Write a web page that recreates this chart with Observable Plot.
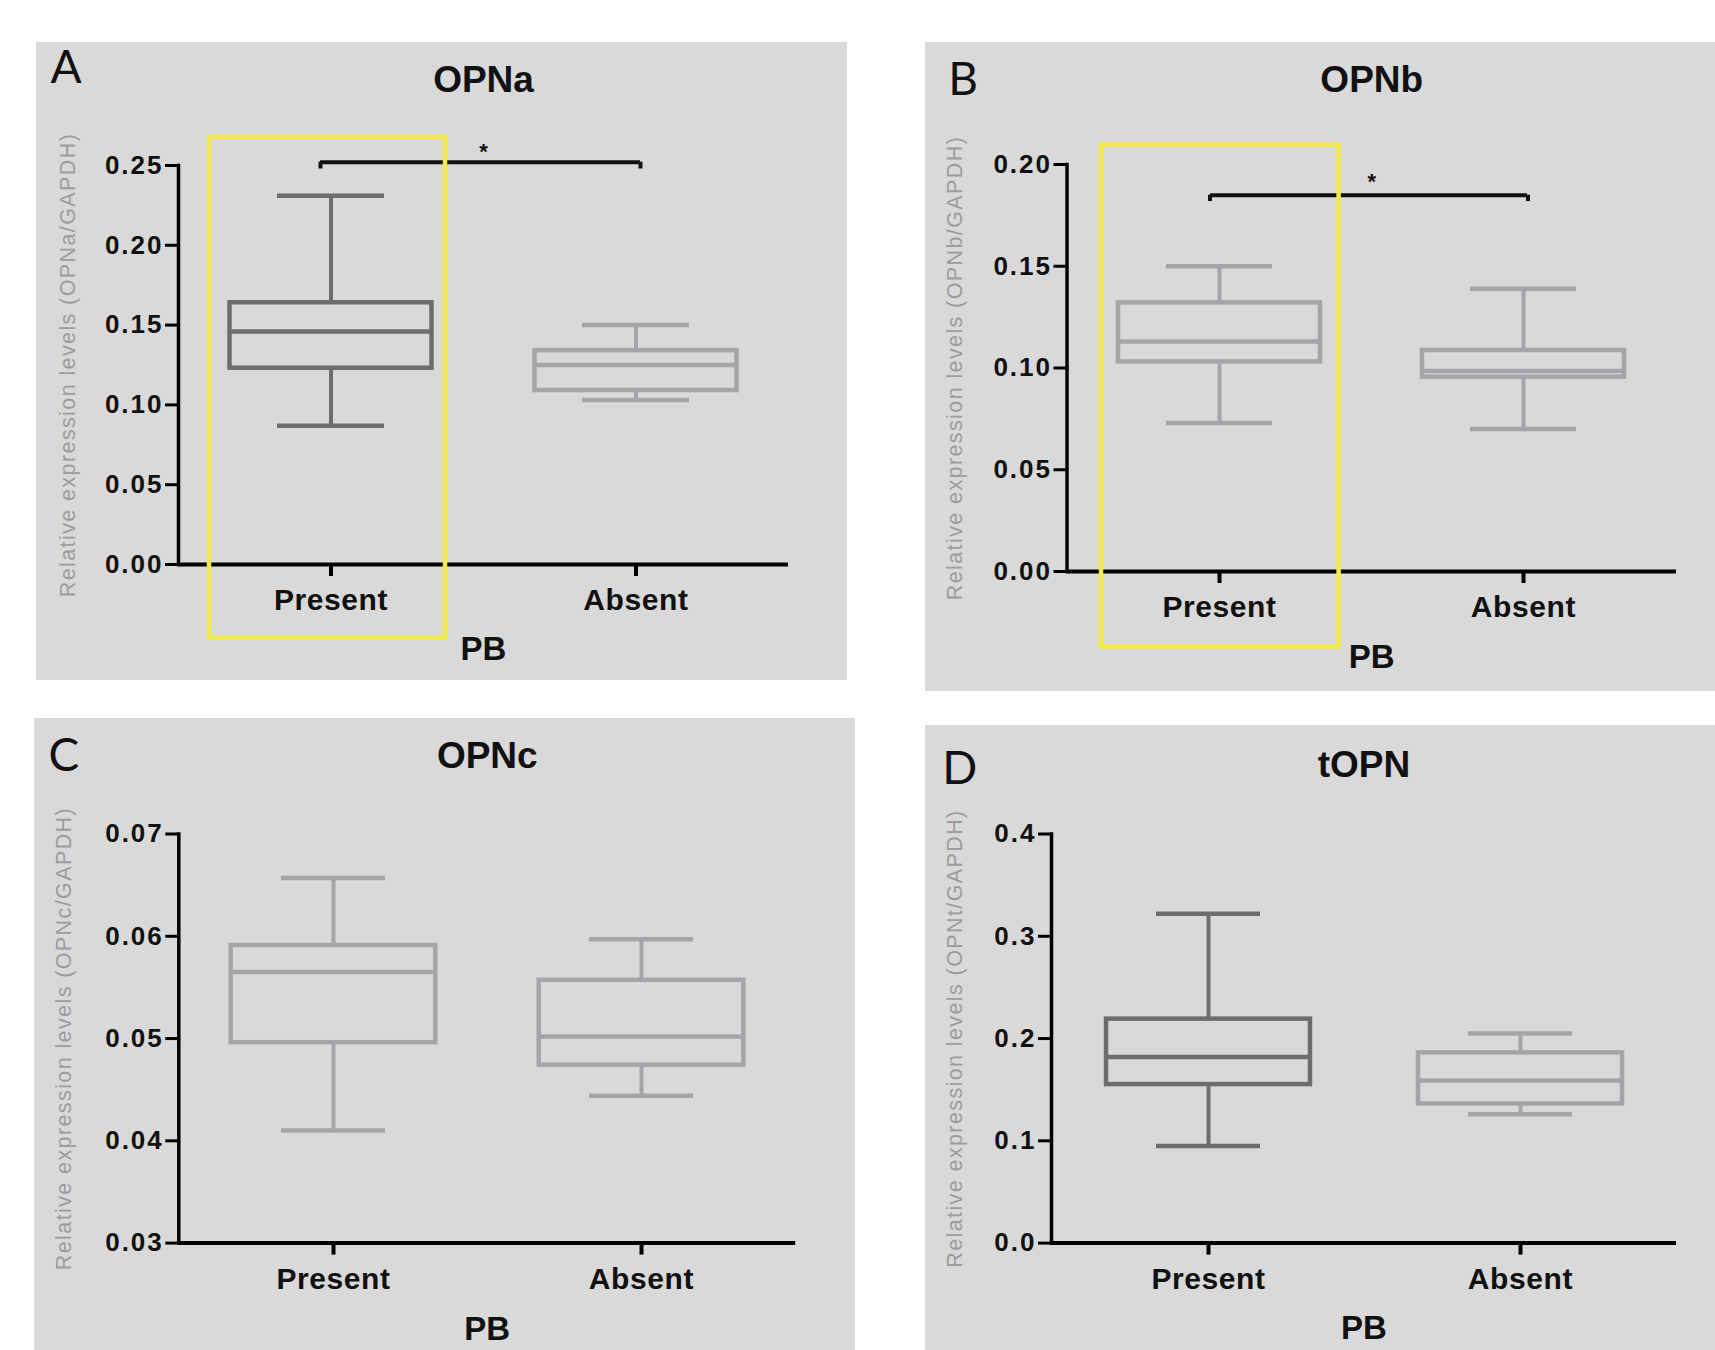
<!DOCTYPE html>
<html><head><meta charset="utf-8">
<script src="https://cdn.jsdelivr.net/npm/d3@7"></script>
<script src="https://cdn.jsdelivr.net/npm/@observablehq/plot@0.6"></script>
<style>
html,body{margin:0;padding:0;background:#fff;}
#page{position:relative;width:1715px;height:1350px;overflow:hidden;background:#fff;}
.panel{position:absolute;}
</style></head><body><div id="page"></div>
<script>
// ---------- data ----------
const groups = ["Present", "Absent"];
const panelLetters = ["A", "B", "C", "D"];
const panelTitles = ["OPNa", "OPNb", "OPNc", "tOPN"];
const xAxisTitle = "PB";
const yAxisTitles = [
  "Relative expression levels (OPNa/GAPDH)",
  "Relative expression levels (OPNb/GAPDH)",
  "Relative expression levels (OPNc/GAPDH)",
  "Relative expression levels (OPNt/GAPDH)"
];
// five-number summaries: [min, q1, median, q3, max]
const opnaPresent = [0.087, 0.123, 0.146, 0.164, 0.231];
const opnaAbsent  = [0.103, 0.109, 0.125, 0.134, 0.150];
const opnbPresent = [0.073, 0.103, 0.113, 0.132, 0.150];
const opnbAbsent  = [0.070, 0.0955, 0.0985, 0.1086, 0.139];
const opncPresent = [0.0410, 0.0496, 0.0565, 0.0591, 0.0657];
const opncAbsent  = [0.0444, 0.0474, 0.0502, 0.0557, 0.0597];
const topnPresent = [0.095, 0.155, 0.182, 0.219, 0.322];
const topnAbsent  = [0.126, 0.136, 0.159, 0.186, 0.205];
// axis ticks
const opnaTicks = [0, 0.05, 0.10, 0.15, 0.20, 0.25];
const opnaTickLabels = ["0.00", "0.05", "0.10", "0.15", "0.20", "0.25"];
const opnbTicks = [0, 0.05, 0.10, 0.15, 0.20];
const opnbTickLabels = ["0.00", "0.05", "0.10", "0.15", "0.20"];
const opncTicks = [0.03, 0.04, 0.05, 0.06, 0.07];
const opncTickLabels = ["0.03", "0.04", "0.05", "0.06", "0.07"];
const topnTicks = [0, 0.1, 0.2, 0.3, 0.4];
const topnTickLabels = ["0.0", "0.1", "0.2", "0.3", "0.4"];
// significance brackets: level, hook end, star position
const opnaSig = {from: "Present", to: "Absent", y: 0.2521, hook: 0.2478, star: 0.2625, label: "*"};
const opnbSig = {from: "Present", to: "Absent", y: 0.1849, hook: 0.1818, star: 0.1946, label: "*"};
// highlight frames around the Present group
const opnaHighlight = {group: "Present", lo: -0.0462, hi: 0.2677};
const opnbHighlight = {group: "Present", lo: -0.0371, hi: 0.2096};

// ---------- styles ----------
const DARK = "#6d6d6d", LIGHT = "#a5a5a9", BG = "#d9d9d9", YELLOW = "#f5ea4b";
const FONT = "'Liberation Sans', Arial, sans-serif";

const panels = [
  {letter: panelLetters[0], title: panelTitles[0], ylabel: yAxisTitles[0], stats: [opnaPresent, opnaAbsent],
   domain: [0, 0.25], ticks: opnaTicks, tickLabels: opnaTickLabels, dark: ["Present"], sig: opnaSig, highlight: opnaHighlight,
   L: {left: 36, top: 42, width: 811, height: 638, mL: 142, mR: 59, mT: 123, mB: 116, boxInset: 51.5, capInset: 99,
       letterDx: -112.4, letterDy: -97.2, titleDy: -85.2, xlabDy: 84.6, ylabDx: -110.2,
       hlInset: [31, 38], hookDx: [-10.5, 4.5], sigInset: [142, 148]}},
  {letter: panelLetters[1], title: panelTitles[1], ylabel: yAxisTitles[1], stats: [opnbPresent, opnbAbsent],
   domain: [0, 0.20], ticks: opnbTicks, tickLabels: opnbTickLabels, dark: [], sig: opnbSig, highlight: opnbHighlight,
   L: {left: 925, top: 42, width: 790, height: 649, mL: 141.5, mR: 39, mT: 122, mB: 120, boxInset: 51, capInset: 99,
       letterDx: -104, letterDy: -84, titleDy: -84, xlabDy: 86, ylabDx: -111.5,
       hlInset: [34, 32.4], hookDx: [-9.5, 4.5], sigInset: [143, 148]}},
  {letter: panelLetters[2], title: panelTitles[2], ylabel: yAxisTitles[2], stats: [opncPresent, opncAbsent],
   domain: [0.03, 0.07], ticks: opncTicks, tickLabels: opncTickLabels, dark: [], sig: null, highlight: null,
   L: {left: 34, top: 718, width: 821, height: 632, mL: 144.3, mR: 59.8, mT: 115.5, mB: 107.4, boxInset: 51.7, capInset: 102,
       letterDx: -115, letterDy: -77.5, titleDy: -77.5, xlabDy: 86.4, ylabDx: -115}},
  {letter: panelLetters[3], title: panelTitles[3], ylabel: yAxisTitles[3], stats: [topnPresent, topnAbsent],
   domain: [0, 0.4], ticks: topnTicks, tickLabels: topnTickLabels, dark: ["Present"], sig: null, highlight: null,
   L: {left: 925, top: 725, width: 790, height: 625, mL: 126, mR: 39, mT: 108.5, mB: 107.4, boxInset: 54, capInset: 104,
       letterDx: -91.7, letterDy: -64.5, titleDy: -69, xlabDy: 85.4, ylabDx: -96}}
];

function buildPanel(cfg) {
  const L = cfg.L;
  const rows = groups.map((g, i) => {
    const s = cfg.stats[i];
    return {group: g, min: s[0], q1: s[1], med: s[2], q3: s[3], max: s[4]};
  });
  const col = d => cfg.dark.includes(d.group) ? DARK : LIGHT;
  const sw = 4.5;
  const fmt = v => cfg.tickLabels[cfg.ticks.findIndex(t => Math.abs(t - v) < 1e-9)];
  const marks = [
    // boxes
    Plot.barY(rows, {x: "group", y1: "q1", y2: "q3", fill: "none", stroke: col, strokeWidth: sw,
      insetLeft: L.boxInset, insetRight: L.boxInset}),
    Plot.tickY(rows, {x: "group", y: "med", stroke: col, strokeWidth: sw, insetLeft: L.boxInset, insetRight: L.boxInset}),
    Plot.ruleX(rows, {x: "group", y1: "q3", y2: "max", stroke: col, strokeWidth: 4}),
    Plot.ruleX(rows, {x: "group", y1: "min", y2: "q1", stroke: col, strokeWidth: 4}),
    Plot.tickY(rows, {x: "group", y: "max", stroke: col, strokeWidth: sw, insetLeft: L.capInset, insetRight: L.capInset}),
    Plot.tickY(rows, {x: "group", y: "min", stroke: col, strokeWidth: sw, insetLeft: L.capInset, insetRight: L.capInset}),
    // axes
    Plot.axisY({ticks: cfg.ticks, tickFormat: fmt, tickSize: 13, tickPadding: 2, strokeWidth: 3, stroke: "#000",
      fontSize: 26, fontWeight: "bold", fill: "#111", label: null}),
    Plot.axisX({tickSize: 12, tickPadding: 12.5, strokeWidth: 4, stroke: "#000",
      fontSize: 30, fontWeight: "bold", fill: "#111", label: null}),
    Plot.frame({anchor: "left", stroke: "#000", strokeWidth: 3.5}),
    Plot.ruleY([cfg.domain[0]], {stroke: "#000", strokeWidth: 4}),
    // texts
    Plot.text([cfg.title], {frameAnchor: "top", dy: L.titleDy, text: d => d, fontSize: 37, fontWeight: "bold",
      fill: "#111", lineAnchor: "middle", textAnchor: "middle"}),
    Plot.text([cfg.letter], {frameAnchor: "top-left", dx: L.letterDx, dy: L.letterDy, text: d => d, fontSize: 46,
      fontFamily: "Lato, 'Open Sans', sans-serif", fontWeight: "normal", fill: "#111", lineAnchor: "middle", textAnchor: "middle"}),
    Plot.text([xAxisTitle], {frameAnchor: "bottom", dy: L.xlabDy, text: d => d, fontSize: 33, fontWeight: "bold",
      fill: "#111", lineAnchor: "middle", textAnchor: "middle"}),
    Plot.text([cfg.ylabel], {frameAnchor: "left", dx: L.ylabDx, rotate: -90, text: d => d, fontSize: 21.5,
      fill: "#9c9c9c", lineAnchor: "middle", textAnchor: "middle"})
  ];
  if (cfg.sig) {
    const s = cfg.sig;
    marks.push(
      Plot.ruleY([s], {y: "y", x1: d => d.from, x2: d => d.to, stroke: "#111", strokeWidth: 4,
        insetLeft: L.sigInset[0], insetRight: L.sigInset[1]}),
      Plot.ruleX([s], {x: d => d.from, y1: "hook", y2: "y", stroke: "#111", strokeWidth: 4, dx: L.hookDx[0]}),
      Plot.ruleX([s], {x: d => d.to, y1: "hook", y2: "y", stroke: "#111", strokeWidth: 4, dx: L.hookDx[1]}),
      Plot.text([s], {y: "star", frameAnchor: "middle", text: "label", fontSize: 22, fontWeight: "bold",
        fill: "#111", dy: 6})
    );
  }
  if (cfg.highlight) {
    marks.push(Plot.barY([cfg.highlight], {x: "group", y1: "lo", y2: "hi", fill: "none", stroke: YELLOW, strokeWidth: 4.5,
      insetLeft: L.hlInset[0], insetRight: L.hlInset[1]}));
  }
  const svg = Plot.plot({
    width: L.width, height: L.height,
    marginLeft: L.mL, marginRight: L.mR, marginTop: L.mT, marginBottom: L.mB,
    style: {background: BG, fontFamily: FONT, overflow: "visible"},
    x: {type: "band", domain: groups, padding: 0},
    y: {domain: cfg.domain},
    marks
  });
  const texts = d3.select(svg).selectAll("text");
  texts.filter(function() { return cfg.tickLabels.includes(this.textContent); }).attr("letter-spacing", "2px");
  texts.filter(function() { return groups.includes(this.textContent); }).attr("letter-spacing", "0.6px");
  texts.filter(function() { return this.textContent === cfg.ylabel; }).attr("letter-spacing", "1.4px");
  const div = document.createElement("div");
  div.className = "panel";
  div.style.left = L.left + "px";
  div.style.top = L.top + "px";
  div.style.width = L.width + "px";
  div.style.height = L.height + "px";
  div.style.background = BG;
  div.appendChild(svg);
  return div;
}

const page = document.getElementById("page");
panels.forEach(p => page.appendChild(buildPanel(p)));
</script>
</body></html>
